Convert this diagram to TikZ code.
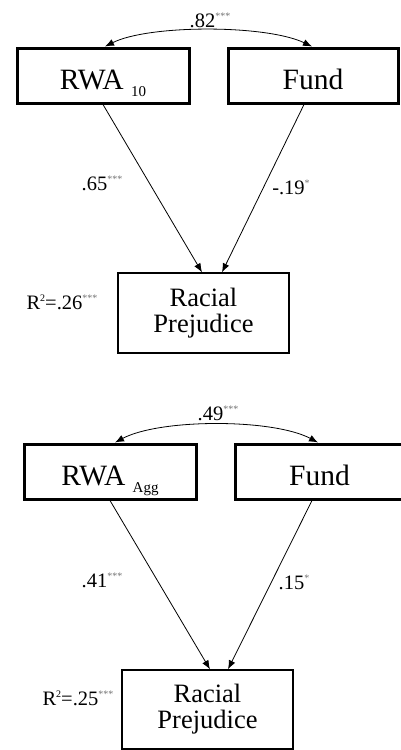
\documentclass[tikz,border=0pt]{standalone}
\usepackage{fontspec}
\setmainfont{Liberation Serif}
\usetikzlibrary{arrows.meta}
\newcommand\sigstars[1]{\raisebox{8pt}{\fontsize{10}{10}\selectfont\color{black!55}#1}}
\newcommand\rsq{R\raisebox{8pt}{\fontsize{10}{10}\selectfont 2}}
\newcommand\subtxt[1]{\raisebox{-7pt}{\fontsize{15}{15}\selectfont #1}}
\begin{document}
\begin{tikzpicture}[x=1pt,y=-1pt,
 thickbox/.style={draw, line width=3pt, minimum height=55pt, inner sep=0pt,
   text height=33pt, text depth=5pt, font=\fontsize{29.5}{32}\selectfont},
 thinbox/.style={draw, line width=1.3pt, minimum width=171pt, minimum height=80pt,
   inner sep=0pt, align=center, font=\fontsize{26.5}{26}\selectfont},
 coef/.style={font=\fontsize{20.5}{22}\selectfont, inner sep=0pt},
 pathline/.style={line width=0.8pt, -{Latex[length=9pt,width=7pt]}},
 cov/.style={line width=0.8pt, {Latex[length=9pt,width=7pt]}-{Latex[length=9pt,width=7pt]}},
]
\useasboundingbox (0,0) rectangle (401,750);
% ---------- top model ----------
\node[thickbox, minimum width=172pt] (rwa1) at (103,75.5) {RWA~\subtxt{10}};
\node[thickbox, minimum width=170pt] (fund1) at (313,75.5) {Fund};
\node[thinbox] (rp1) at (203.5,313) {Racial\\Prejudice};
\draw[cov] ([xshift=2pt]rwa1.north) .. controls +(44,-22) and +(-46,-22) .. ([xshift=-1pt]fund1.north);
\draw[pathline] (rwa1.south) -- ([xshift=-1.5pt]rp1.north);
\draw[pathline] ([xshift=-9pt]fund1.south) -- ([xshift=18.5pt]rp1.north);
\node[coef] (c1) at (210,20) {.82\sigstars{***}};
\node[coef] (p1) at (102,183) {.65\sigstars{***}};
\node[coef] (p2) at (291,187) {-.19\sigstars{*}};
\node[coef] (r1) at (62,302) {\rsq=.26\sigstars{***}};
% ---------- bottom model ----------
\node[thickbox, minimum width=172pt] (rwa2) at (110,471.5) {RWA~\subtxt{Agg}};
\node[thickbox, minimum width=169pt] (fund2) at (319.5,471.5) {Fund};
\node[thinbox, minimum height=79pt] (rp2) at (207.5,709.5) {Racial\\Prejudice};
\draw[cov] ([xshift=5pt]rwa2.north) .. controls +(45,-24) and +(-45,-24) .. ([xshift=-1.5pt]fund2.north);
\draw[pathline] (rwa2.south) -- ([xshift=2.5pt]rp2.north);
\draw[pathline] ([xshift=-7.5pt]fund2.south) -- ([xshift=20.5pt]rp2.north);
\node[coef] (c2) at (218,413) {.49\sigstars{***}};
\node[coef] (p3) at (102,580) {.41\sigstars{***}};
\node[coef] (p4) at (294,582) {.15\sigstars{*}};
\node[coef] (r2) at (78,698) {\rsq=.25\sigstars{***}};
\end{tikzpicture}
\end{document}
